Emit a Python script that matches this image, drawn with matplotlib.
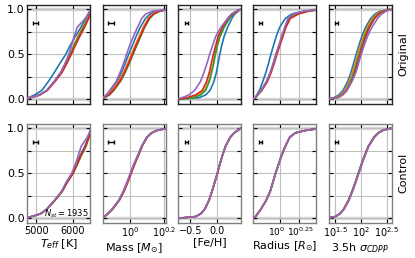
import numpy as np
import matplotlib
matplotlib.use("Agg")
from matplotlib import pyplot as plt
from matplotlib.ticker import NullLocator
from matplotlib.transforms import ScaledTranslation

levels = [0, 0.02, 0.05, 0.1, 0.2, 0.3, 0.4, 0.5, 0.6, 0.7, 0.8, 0.9, 0.95, 0.98, 1.0]

colors = ["#1f77b4", "#ff7f0e", "#2ca02c", "#d62728", "#9467bd"]

# ---- Original sample (blue, orange, green, red, purple) ----
teff_orig = [
    [4700, 4790, 4950, 5150, 5330, 5490, 5640, 5800, 5920, 6060, 6210, 6350, 6410, 6450, 6480],
    [4700, 4840, 5080, 5280, 5490, 5670, 5800, 5920, 6020, 6130, 6260, 6400, 6440, 6465, 6490],
    [4700, 4845, 5090, 5290, 5500, 5680, 5810, 5930, 6030, 6150, 6280, 6410, 6445, 6468, 6490],
    [4700, 4850, 5100, 5300, 5510, 5700, 5830, 5950, 6060, 6180, 6310, 6420, 6450, 6470, 6490],
    [4700, 4840, 5080, 5280, 5480, 5660, 5780, 5880, 5960, 6030, 6110, 6330, 6410, 6450, 6480],
]
logmass_orig = [
    [-0.175, -0.155, -0.139, -0.115, -0.075, -0.050, -0.028, -0.008, 0.014, 0.036, 0.060, 0.091, 0.119, 0.153, 0.222],
    [-0.175, -0.157, -0.131, -0.105, -0.066, -0.038, -0.014, 0.008, 0.030, 0.054, 0.077, 0.107, 0.133, 0.167, 0.222],
    [-0.175, -0.149, -0.121, -0.095, -0.056, -0.028, -0.004, 0.018, 0.040, 0.063, 0.086, 0.116, 0.141, 0.175, 0.222],
    [-0.175, -0.151, -0.125, -0.099, -0.060, -0.032, -0.008, 0.014, 0.036, 0.060, 0.083, 0.113, 0.139, 0.173, 0.222],
    [-0.175, -0.155, -0.139, -0.119, -0.081, -0.058, -0.038, -0.020, -0.002, 0.020, 0.044, 0.069, 0.093, 0.133, 0.222],
]
feh_orig = [
    [-0.75, -0.344, -0.219, -0.138, -0.063, -0.019, 0.013, 0.044, 0.081, 0.125, 0.188, 0.269, 0.325, 0.388, 0.43],
    [-0.75, -0.469, -0.344, -0.238, -0.163, -0.119, -0.075, -0.044, -0.006, 0.044, 0.113, 0.213, 0.294, 0.375, 0.43],
    [-0.75, -0.438, -0.313, -0.219, -0.150, -0.106, -0.069, -0.038, 0.000, 0.050, 0.125, 0.225, 0.300, 0.375, 0.43],
    [-0.75, -0.563, -0.406, -0.281, -0.200, -0.150, -0.113, -0.075, -0.031, 0.013, 0.094, 0.200, 0.281, 0.363, 0.43],
    [-0.81, -0.656, -0.531, -0.425, -0.313, -0.250, -0.194, -0.144, -0.088, -0.031, 0.063, 0.188, 0.263, 0.344, 0.43],
]
lograd_orig = [
    [-0.386, -0.341, -0.318, -0.282, -0.236, -0.195, -0.159, -0.127, -0.091, -0.055, -0.009, 0.068, 0.159, 0.318, 0.545],
    [-0.386, -0.336, -0.309, -0.259, -0.186, -0.136, -0.095, -0.059, -0.018, 0.023, 0.064, 0.118, 0.205, 0.355, 0.545],
    [-0.386, -0.336, -0.309, -0.255, -0.182, -0.132, -0.091, -0.055, -0.014, 0.027, 0.068, 0.127, 0.218, 0.364, 0.545],
    [-0.386, -0.336, -0.305, -0.250, -0.173, -0.123, -0.082, -0.045, -0.005, 0.036, 0.077, 0.136, 0.250, 0.386, 0.545],
    [-0.386, -0.336, -0.309, -0.259, -0.186, -0.136, -0.095, -0.059, -0.018, 0.018, 0.059, 0.105, 0.173, 0.318, 0.545],
]
logcdpp_orig = [
    [1.314, 1.474, 1.571, 1.654, 1.744, 1.808, 1.859, 1.910, 1.962, 2.019, 2.090, 2.192, 2.276, 2.372, 2.564],
    [1.314, 1.506, 1.603, 1.686, 1.776, 1.840, 1.891, 1.942, 1.994, 2.051, 2.122, 2.224, 2.308, 2.404, 2.580],
    [1.314, 1.532, 1.629, 1.712, 1.802, 1.866, 1.917, 1.968, 2.020, 2.077, 2.148, 2.250, 2.334, 2.430, 2.580],
    [1.314, 1.551, 1.648, 1.731, 1.821, 1.885, 1.936, 1.987, 2.039, 2.096, 2.167, 2.269, 2.353, 2.449, 2.590],
    [1.314, 1.538, 1.635, 1.718, 1.827, 1.904, 1.955, 2.006, 2.064, 2.128, 2.212, 2.327, 2.404, 2.487, 2.596],
]

# ---- Control sample ----
teff_ctrl = [
    [4700, 4865, 5105, 5275, 5495, 5690, 5820, 5980, 6090, 6190, 6320, 6415, 6450, 6470, 6490],
    [4700, 4870, 5110, 5285, 5505, 5705, 5840, 6000, 6110, 6215, 6340, 6425, 6452, 6470, 6490],
    [4700, 4872, 5115, 5285, 5505, 5705, 5840, 6000, 6115, 6225, 6350, 6430, 6455, 6472, 6490],
    [4700, 4870, 5110, 5285, 5505, 5700, 5835, 5995, 6105, 6210, 6335, 6425, 6452, 6470, 6490],
    [4700, 4868, 5105, 5275, 5490, 5685, 5810, 5960, 6060, 6140, 6220, 6380, 6440, 6465, 6490],
]
logmass_ctrl = [
    [-0.175, -0.151, -0.132, -0.106, -0.066, -0.039, -0.017, 0.003, 0.023, 0.046, 0.068, 0.098, 0.126, 0.162, 0.222],
    [-0.175, -0.150, -0.131, -0.104, -0.064, -0.037, -0.015, 0.005, 0.025, 0.048, 0.070, 0.100, 0.128, 0.164, 0.222],
    [-0.175, -0.149, -0.130, -0.103, -0.063, -0.036, -0.014, 0.006, 0.026, 0.049, 0.070, 0.100, 0.128, 0.164, 0.222],
    [-0.175, -0.150, -0.130, -0.104, -0.063, -0.035, -0.013, 0.007, 0.027, 0.050, 0.071, 0.100, 0.128, 0.163, 0.222],
    [-0.175, -0.151, -0.132, -0.106, -0.066, -0.040, -0.018, 0.002, 0.022, 0.046, 0.068, 0.098, 0.126, 0.162, 0.222],
]
feh_ctrl = [
    [-0.75, -0.404, -0.310, -0.235, -0.154, -0.099, -0.049, 0.001, 0.045, 0.095, 0.151, 0.238, 0.313, 0.388, 0.43],
    [-0.75, -0.406, -0.313, -0.238, -0.156, -0.100, -0.050, 0.000, 0.044, 0.094, 0.150, 0.238, 0.313, 0.388, 0.43],
    [-0.75, -0.408, -0.314, -0.239, -0.157, -0.101, -0.051, -0.001, 0.043, 0.093, 0.150, 0.237, 0.312, 0.387, 0.43],
    [-0.75, -0.406, -0.312, -0.237, -0.156, -0.100, -0.050, 0.000, 0.044, 0.094, 0.150, 0.238, 0.313, 0.388, 0.43],
    [-0.75, -0.410, -0.316, -0.240, -0.158, -0.102, -0.052, -0.002, 0.043, 0.093, 0.149, 0.237, 0.312, 0.387, 0.43],
]
lograd_ctrl = [
    [-0.386, -0.337, -0.311, -0.266, -0.193, -0.138, -0.102, -0.066, -0.025, 0.016, 0.067, 0.126, 0.204, 0.364, 0.545],
    [-0.386, -0.336, -0.309, -0.264, -0.191, -0.136, -0.100, -0.064, -0.023, 0.018, 0.068, 0.127, 0.205, 0.364, 0.545],
    [-0.386, -0.336, -0.308, -0.263, -0.190, -0.135, -0.099, -0.063, -0.022, 0.019, 0.069, 0.128, 0.206, 0.365, 0.545],
    [-0.386, -0.335, -0.308, -0.263, -0.190, -0.135, -0.099, -0.063, -0.022, 0.019, 0.069, 0.128, 0.206, 0.364, 0.545],
    [-0.386, -0.336, -0.309, -0.264, -0.191, -0.136, -0.100, -0.064, -0.023, 0.018, 0.068, 0.127, 0.205, 0.364, 0.545],
]
logcdpp_ctrl = [
    [1.314, 1.500, 1.584, 1.661, 1.757, 1.827, 1.891, 1.950, 2.008, 2.072, 2.142, 2.251, 2.335, 2.431, 2.58],
    [1.314, 1.504, 1.588, 1.665, 1.761, 1.831, 1.895, 1.953, 2.011, 2.075, 2.145, 2.254, 2.338, 2.434, 2.58],
    [1.314, 1.506, 1.590, 1.667, 1.763, 1.833, 1.897, 1.955, 2.013, 2.077, 2.147, 2.256, 2.340, 2.436, 2.58],
    [1.314, 1.508, 1.592, 1.669, 1.765, 1.835, 1.899, 1.958, 2.016, 2.080, 2.150, 2.259, 2.343, 2.439, 2.58],
    [1.314, 1.510, 1.595, 1.672, 1.768, 1.838, 1.902, 1.960, 2.018, 2.082, 2.152, 2.261, 2.345, 2.441, 2.58],
]

# typical uncertainty markers (centre, half width) per column
err_x = [4975, 0.778, -0.58, 0.545, 33.6]
err_w = [65, 0.03, 0.028, 0.022, 2.0]

xlabels = ["$T_{eff}$ [K]", "Mass [$M_{\\odot}$]", "[Fe/H]", "Radius [$R_{\\odot}$]", "3.5h $\\sigma_{CDPP}$"]
is_log = [False, True, False, True, True]
xlims = [(4760, 6470), (10**-0.16, 10**0.21), (-0.73, 0.44), (10**-0.364, 10**0.49), (10**1.377, 10**2.6)]
xticks = [[5000, 6000], [1, 10**0.2], [-0.5, 0.0], [1, 10**0.25], [10**1.5, 100, 10**2.5]]
xticklabels = [["5000", "6000"], ["$10^{0}$", "$10^{0.2}$"], ["\u22120.5", "0.0"],
               ["$10^{0}$", "$10^{0.25}$"], ["$10^{1.5}$", "$10^{2}$", "$10^{2.5}$"]]
xtick_size = [7, 7, 7, 6.5, 7]
row_names = ["Original", "Control"]

rows = [[teff_orig, logmass_orig, feh_orig, lograd_orig, logcdpp_orig],
        [teff_ctrl, logmass_ctrl, feh_ctrl, lograd_ctrl, logcdpp_ctrl]]

fig, axes = plt.subplots(2, 5, figsize=(4.15, 2.58), dpi=100)
plt.subplots_adjust(left=0.066, right=0.944, top=0.981, bottom=0.136, wspace=0.195, hspace=0.2)

for r in range(2):
    for c in range(5):
        ax = axes[r, c]
        for k, q in enumerate(rows[r][c]):
            xs = np.array(q, dtype=float)
            if is_log[c]:
                xs = 10**xs
            ax.plot(xs, levels, color=colors[k], lw=1.2, zorder=3)
        ax.axhline(0, color="0.85", lw=2.5, zorder=1)
        ax.axhline(1, color="0.85", lw=2.5, zorder=1)
        ax.errorbar(err_x[c], 0.85, xerr=err_w[c], fmt="none", ecolor="k",
                    elinewidth=1, capsize=1.5, capthick=1, zorder=4)
        if is_log[c]:
            ax.set_xscale("log")
        ax.set_xlim(*xlims[c])
        ax.set_ylim(-0.05, 1.05)
        ax.set_xticks(xticks[c])
        ax.xaxis.set_minor_locator(NullLocator())
        ax.set_yticks([0, 0.25, 0.5, 0.75, 1.0])
        ax.grid(True, color="0.75", lw=0.8, zorder=0)
        ax.tick_params(direction="in", top=True, right=True, length=3, width=0.8, pad=2)
        ax.tick_params(axis="x", labelsize=xtick_size[c])
        ax.tick_params(axis="y", labelsize=8)
        if c == 0:
            ax.set_yticklabels(["0.0", "", "0.5", "", "1.0"])
        else:
            ax.set_yticklabels([])
        if r == 1:
            ax.set_xticklabels(xticklabels[c])
            ax.set_xlabel(xlabels[c], fontsize=8, labelpad=1)
        else:
            ax.set_xticklabels([])
        for s in ax.spines.values():
            s.set_color("0.15" if r == 0 else "0.5")
            s.set_linewidth(1.0)
    axes[r, 4].text(1.18, 0.5, row_names[r], transform=axes[r, 4].transAxes,
                    rotation=90, ha="center", va="center", fontsize=8)

# the radius tick labels sit very close together; nudge them apart a little
rad_labels = axes[1, 3].get_xticklabels()
rad_labels[0].set_transform(rad_labels[0].get_transform() + ScaledTranslation(-3 / 72, 0, fig.dpi_scale_trans))
rad_labels[1].set_transform(rad_labels[1].get_transform() + ScaledTranslation(1 / 72, 0, fig.dpi_scale_trans))

axes[1, 0].text(0.98, 0.03, "$N_{st} = 1935$", transform=axes[1, 0].transAxes,
                ha="right", va="bottom", fontsize=6, zorder=5)

plt.savefig("out.png", dpi=100)
